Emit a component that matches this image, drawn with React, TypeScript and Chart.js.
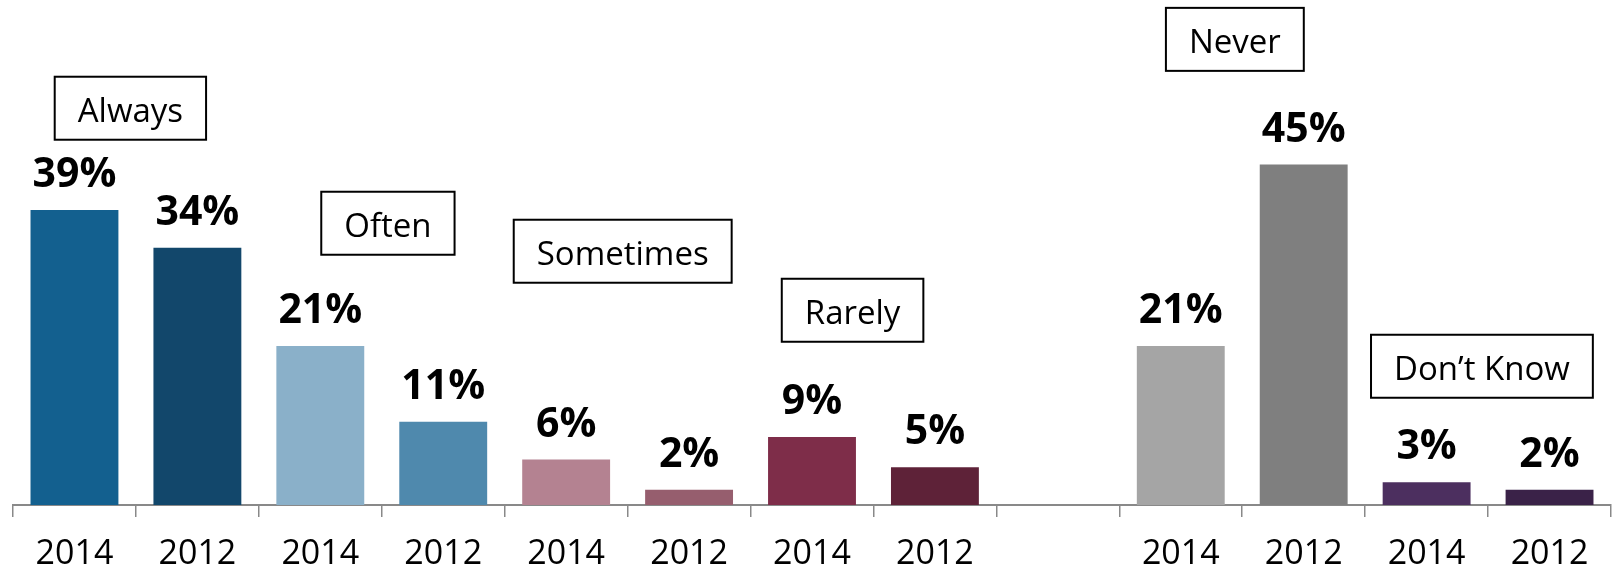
import React, { useEffect, useRef } from "react";
import { Chart, registerables } from "chart.js";

Chart.register(...registerables);

const yearLabels = ["2014", "2012", "2014", "2012", "2014", "2012", "2014", "2012", "", "2014", "2012", "2014", "2012"];
const shareValues = [39, 34, 21, 11, 6, 2, 9, 5, null, 21, 45, 3, 2];
const barColors = [
  "#13608F", "#12476B",
  "#8AB0C9", "#4F89AD",
  "#B48291", "#965E6E",
  "#7E2D49", "#5E2238",
  "rgba(0,0,0,0)",
  "#A5A5A5", "#7F7F7F",
  "#4C2F5F", "#3A2248",
];
const groupNames = ["Always", "Often", "Sometimes", "Rarely", "Never", "Don\u2019t Know"];
// annotation anchor: category index (center of box) and value (top of box)
const groupBoxAt = [0.455, 2.55, 4.46, 6.33, 9.44, 11.45];
const groupBoxTop = [56.6, 41.4, 37.7, 29.9, 65.7, 22.5];

const FONT = "'Open Sans', 'DejaVu Sans', sans-serif";

const valueLabelPlugin = {
  id: "valueLabels",
  afterDatasetsDraw(chart: any) {
    const ctx = chart.ctx;
    const meta = chart.getDatasetMeta(0);
    ctx.save();
    ctx.font = `bold 41px ${FONT}`;
    ctx.fillStyle = "#000";
    ctx.textAlign = "center";
    ctx.textBaseline = "alphabetic";
    meta.data.forEach((el: any, i: number) => {
      const v = shareValues[i];
      if (v === null || v === undefined) return;
      ctx.fillText(`${v}%`, el.x, el.y - 23);
    });
    ctx.restore();
  },
};

const groupBoxPlugin = {
  id: "groupBoxes",
  afterDraw(chart: any) {
    const ctx = chart.ctx;
    const xs = chart.scales.x;
    const ys = chart.scales.y;
    ctx.save();
    ctx.font = `33px ${FONT}`;
    groupNames.forEach((name, i) => {
      const cx = xs.getPixelForValue(groupBoxAt[i]);
      const top = ys.getPixelForValue(groupBoxTop[i]);
      const tw = ctx.measureText(name).width;
      const w = tw + 46;
      const h = 63;
      ctx.fillStyle = "#fff";
      ctx.fillRect(cx - w / 2, top, w, h);
      ctx.strokeStyle = "#000";
      ctx.lineWidth = 2;
      ctx.strokeRect(cx - w / 2, top, w, h);
      ctx.fillStyle = "#000";
      ctx.textAlign = "center";
      ctx.textBaseline = "alphabetic";
      ctx.fillText(name, cx, top + 45);
    });
    ctx.restore();
  },
};

export default function App() {
  const canvasRef = useRef<HTMLCanvasElement | null>(null);

  useEffect(() => {
    document.body.style.margin = "0";
    const canvas = canvasRef.current;
    if (!canvas) return;
    const chart = new Chart(canvas, {
      type: "bar",
      data: {
        labels: yearLabels,
        datasets: [
          {
            data: shareValues as any,
            backgroundColor: barColors,
            borderWidth: 0,
            categoryPercentage: 1,
            barPercentage: 0.715,
          },
        ],
      },
      options: {
        responsive: false,
        animation: false,
        devicePixelRatio: 1,
        layout: { padding: { left: 13, right: 3, top: 51, bottom: 0 } },
        plugins: {
          legend: { display: false },
          tooltip: { enabled: false },
          title: { display: false },
        },
        scales: {
          x: {
            afterFit: (scale: any) => {
              scale.height = 64;
            },
            grid: {
              display: true,
              drawOnChartArea: false,
              drawTicks: true,
              tickLength: 12,
              offset: true,
              color: "#898989",
              lineWidth: 1.5,
            },
            border: { display: true, color: "#898989", width: 2 },
            ticks: {
              color: "#000",
              font: { family: FONT, size: 34 },
              padding: 17,
              maxRotation: 0,
              autoSkip: false,
            },
          },
          y: {
            display: false,
            min: 0,
            max: 60,
          },
        },
      },
      plugins: [valueLabelPlugin, groupBoxPlugin],
    });
    return () => chart.destroy();
  }, []);

  return (
    <div style={{ width: 1614, height: 569 }}>
      <canvas ref={canvasRef} width={1614} height={569} style={{ display: "block" }} />
    </div>
  );
}
